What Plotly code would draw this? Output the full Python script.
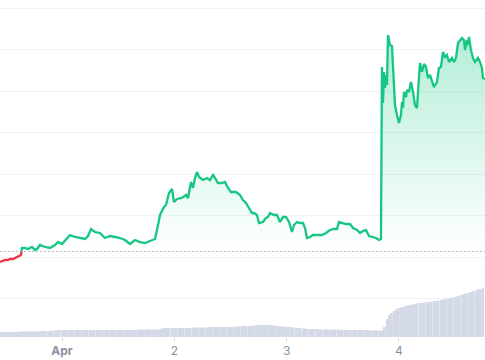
import plotly.graph_objects as go
import pandas as pd

# ---------------- data ----------------
ANCHOR = pd.Timestamp("2024-04-01 00:00")   # hours below are relative to Apr 1 00:00

price_hours = [
    -13.25, -12.61, -12.18, -11.54, -11.11, -10.47, -10.04, -9.40, -8.76,
    -8.55, -7.91, -7.27, -6.41, -5.77, -5.34, -4.70, -3.63, -2.56, -1.50, -0.85,
    0.00, 0.85, 1.71, 2.78, 3.85, 4.92, 5.56, 6.20, 7.05, 8.12, 9.19, 10.26, 11.33,
    12.39, 13.46, 14.53, 15.60, 16.67, 17.74, 18.81, 19.87, 20.52, 20.94, 21.80,
    22.22, 22.87, 23.51, 23.93, 24.58, 25.64, 26.50, 26.93, 27.57, 27.99, 28.42,
    28.85, 29.28, 30.13, 30.99, 31.63, 32.27, 32.70, 33.34, 34.19, 34.83, 35.47,
    36.12, 37.18, 38.04, 38.68, 39.32, 39.96, 40.60, 41.03, 41.67, 42.10, 42.95,
    43.59, 44.02, 44.45, 45.30, 45.95, 46.59, 47.23, 47.87, 48.51, 49.15, 49.58,
    50.22, 50.86, 51.50, 51.93, 52.36, 53.00, 53.64, 54.49, 55.56, 56.42, 57.27,
    58.13, 58.77, 59.19, 59.84, 60.69, 61.55, 62.19, 63.04, 63.68, 64.32, 64.96,
    65.61, 66.46, 67.10, 67.74, 68.17, 68.38, 68.60, 68.81, 69.02, 69.24, 69.45,
    69.67, 70.09, 70.52, 70.73, 71.16, 71.59, 72.02, 72.44, 72.66, 72.87, 73.08,
    73.51, 73.73, 74.15, 74.58, 75.01, 75.44, 75.86, 76.50, 76.93, 77.36, 77.79,
    78.21, 78.64, 79.07, 79.50, 80.14, 80.56, 80.99, 81.42, 81.85, 82.27, 82.70,
    83.34, 83.77, 84.20, 84.63, 85.05, 85.48, 85.91, 86.12, 86.55, 86.76, 86.98,
    87.40, 87.83, 88.26, 88.90, 89.33, 89.75, 89.96, 90.39,
]
price_values = [
    1.880, 1.904, 1.928, 1.928, 1.952, 1.952, 1.976, 2.000, 2.048,
    2.217, 2.217, 2.193, 2.241, 2.169, 2.193, 2.289, 2.241, 2.217, 2.289, 2.361,
    2.313, 2.410, 2.530, 2.482, 2.458, 2.434, 2.506, 2.675, 2.602, 2.578, 2.458,
    2.506, 2.482, 2.458, 2.410, 2.313, 2.410, 2.361, 2.337, 2.386, 2.434, 2.771,
    3.012, 3.205, 3.253, 3.542, 3.639, 3.325, 3.398, 3.422, 3.494, 3.422, 3.807,
    3.663, 3.904, 4.048, 3.928, 3.855, 3.904, 3.855, 3.976, 3.904, 3.783, 3.783,
    3.807, 3.663, 3.566, 3.566, 3.494, 3.373, 3.301, 3.181, 3.060, 3.060, 3.012,
    2.819, 2.843, 2.940, 2.964, 3.060, 3.012, 3.012, 2.843, 2.964, 2.964, 2.843,
    2.602, 2.771, 2.843, 2.819, 2.819, 2.699, 2.458, 2.482, 2.530, 2.530, 2.530,
    2.578, 2.651, 2.675, 2.675, 2.843, 2.819, 2.795, 2.795, 2.699, 2.651, 2.578,
    2.627, 2.651, 2.506, 2.482, 2.458, 2.410, 2.434, 6.578, 5.711, 6.458, 6.072,
    6.386, 6.145, 7.349, 7.108, 7.084, 6.627, 5.663, 5.422, 5.229, 5.422, 5.735,
    5.590, 5.976, 5.855, 6.024, 5.976, 6.217, 5.976, 5.663, 5.590, 6.675, 6.458,
    6.651, 6.578, 6.313, 6.386, 6.265, 6.096, 6.217, 6.554, 6.578, 6.940, 6.819,
    6.867, 6.699, 6.795, 6.699, 6.795, 7.157, 7.229, 7.277, 7.229, 6.988, 7.229,
    7.108, 7.301, 6.988, 6.795, 6.699, 6.795, 6.699, 6.554, 6.313, 6.289,
]
open_price = 2.133          # price at the start of the period (dotted reference line)

volume_start = pd.Timestamp("2024-03-31 11:00")   # 30-minute volume bars
volume_values = [
    5, 5, 5, 5, 5, 5, 5, 5, 5.5, 5.5, 5.5, 5.5,
    5.5, 5.5, 5.5, 6, 5.5, 6, 6, 6, 6, 6, 6.5, 6.5,
    6.5, 7, 7, 7, 7, 7, 7, 7, 7, 7, 7, 7,
    7, 7, 7, 7, 7, 7, 7, 7, 7, 7, 7, 7,
    7, 7, 7, 7, 7, 7, 7, 7, 7, 7, 7, 7.5,
    7.5, 7.5, 7.5, 7.5, 7.5, 7.5, 7.5, 7.5, 8, 8.5, 9, 9,
    9, 9, 9, 9, 9, 9, 9, 9, 9, 9, 9.5, 9.5,
    9.5, 9.5, 9.5, 9.5, 9.5, 10, 10, 10, 10, 10, 10, 10,
    10, 10, 10, 10, 10.5, 10.5, 10.5, 11, 11, 11, 11, 11,
    11.5, 11.5, 12, 12, 12, 12, 12, 12, 11.5, 11.5, 11, 11,
    10.5, 10.5, 10, 10, 10, 9.5, 9.5, 9, 9, 8.5, 8.5, 8,
    8, 8, 8, 8, 7.5, 7.5, 7.5, 7.5, 7.5, 7.5, 7.5, 7.5,
    7.5, 7, 7, 7, 7, 7, 7, 7, 7, 7, 7, 7,
    7, 7, 6.5, 6.5, 6.5, 6.5, 6.5, 6.5, 10, 18, 22, 24,
    26, 27.5, 29, 29.5, 30, 31, 31.5, 32, 32.5, 33, 33.5, 34,
    34, 34.5, 35, 35, 35.5, 36, 36, 36.5, 37, 37.5, 38, 38.5,
    39, 39.5, 40, 40.5, 41.5, 42, 43, 43.5, 44.5, 45, 46, 46.5,
    47.5, 48, 49,
]

tick_days = ["2024-04-01", "2024-04-02", "2024-04-03", "2024-04-04"]
tick_labels = ["<b>Apr</b>", "2", "3", "4"]

# ---------------- styling ----------------
GREEN = "#16c784"
RED = "#ea3943"

times = [ANCHOR + pd.Timedelta(hours=h) for h in price_hours]
vol_times = [volume_start + pd.Timedelta(minutes=30 * i) for i in range(len(volume_values))]

# split the series where it first rises above the opening price
k = next(i for i, v in enumerate(price_values) if v >= open_price)
v0, v1 = price_values[k - 1], price_values[k]
frac = (open_price - v0) / (v1 - v0)
cross_t = times[k - 1] + (times[k] - times[k - 1]) * frac

fig = go.Figure()

fig.add_trace(go.Bar(
    x=vol_times, y=volume_values, yaxis="y2",
    marker=dict(color="#d3d9e6", line=dict(width=0)),
    hoverinfo="skip",
))

fig.add_trace(go.Scatter(
    x=[cross_t, times[-1]], y=[open_price, open_price],
    mode="lines", line=dict(width=0, color="rgba(0,0,0,0)"),
    hoverinfo="skip",
))
fig.add_trace(go.Scatter(
    x=[cross_t] + times[k:], y=[open_price] + price_values[k:],
    mode="lines", line=dict(color=GREEN, width=2.3),
    fill="tonexty",
    fillgradient=dict(
        type="vertical",
        colorscale=[[0, "rgba(22,199,132,0)"], [1, "rgba(22,199,132,0.32)"]],
        start=open_price, stop=7.35,
    ),
))
fig.add_trace(go.Scatter(
    x=times[:k] + [cross_t], y=price_values[:k] + [open_price],
    mode="lines", line=dict(color=RED, width=2.3),
))

x_range = [ANCHOR + pd.Timedelta(hours=-13.25), ANCHOR + pd.Timedelta(hours=90.4)]

fig.update_layout(
    width=485, height=360,
    margin=dict(l=0, r=0, t=0, b=23),
    paper_bgcolor="white", plot_bgcolor="white",
    showlegend=False,
    bargap=0.18,
    font=dict(family="Inter, Roboto, sans-serif", size=12, color="#8a919e"),
    xaxis=dict(
        range=x_range, type="date",
        tickvals=[pd.Timestamp(d) for d in tick_days], ticktext=tick_labels,
        showgrid=False, zeroline=False, showline=False,
        ticks="outside", ticklen=3, tickcolor="#cfd4dc",
        tickfont=dict(size=12, color="#8a919e"),
    ),
    yaxis=dict(
        range=[0.0723, 8.1928], tick0=0, dtick=1,
        showgrid=True, gridcolor="#f1f2f4", gridwidth=1,
        showticklabels=False, zeroline=False, showline=False, ticks="",
    ),
    yaxis2=dict(
        range=[0, 337], overlaying="y", side="right",
        showgrid=False, showticklabels=False, zeroline=False, showline=False,
    ),
    shapes=[dict(
        type="line", xref="paper", x0=0, x1=1, yref="y", y0=open_price, y1=open_price,
        line=dict(color="rgba(150,158,172,0.7)", width=1, dash="2px,2px"),
        layer="below",
    )],
)

fig.write_html("out.html")
